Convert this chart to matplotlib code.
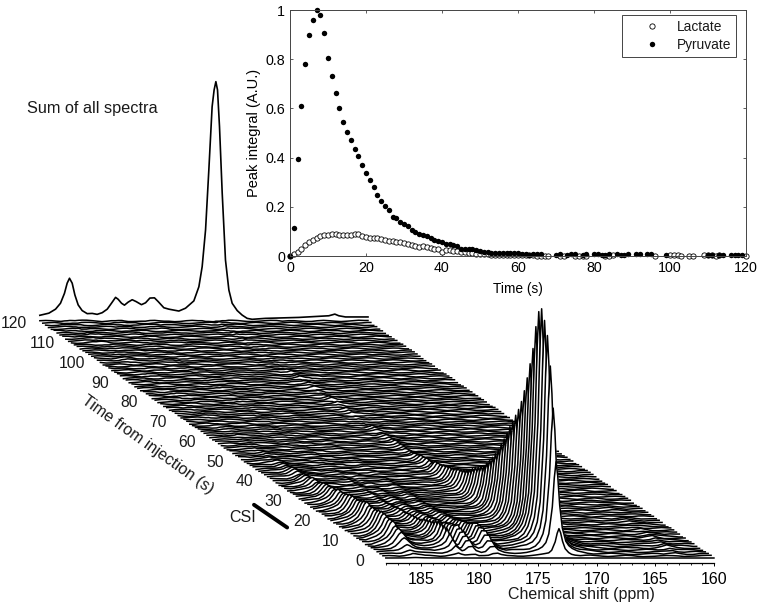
import numpy as np
import matplotlib
matplotlib.use('Agg')
import matplotlib.pyplot as plt
from matplotlib.transforms import offset_copy

plt.rcParams['font.family'] = ['Liberation Sans', 'DejaVu Sans']
plt.rcParams['text.color'] = '#1a1a1a'

nan = float('nan')

# peak integrals, one value per second (nan = below axis)
pyruvate = [0, .115, .393, .609, .779, .90, .959, 1.0, .978, .908,
            .806, .733, .661, .601, .543, .503, .472, .434, .407, .369,
            .336, .309, .279, .25, .225, .204, .186, .16, .155, .14,
            .13, .12, .105, .098, .09, .085, .08, .073, .065, .06,
            .055, .05, .048, .043, .04, .03, .03, .03, .028, .025,
            .02, .018, .015, .012, .012, .012, .012, .013, .013, .012,
            .012, .01, .008, .006, .008, .01, .009, nan, nan, nan,
            .006, .008, nan, .006, .009, .007, nan, .006, .008, nan,
            .009, .008, .005, .006, .007, nan, .007, .006, .006, .007,
            nan, .007, .008, nan, .009, .007, nan, nan, nan, .004,
            nan, nan, nan, nan, nan, nan, nan, nan, nan, nan,
            .003, .003, nan, .005, .005, nan, .004, .004, .004, .004,
            nan]
lactate = [.002, .008, .015, .028, .044, .058, .067, .072, .08, .085,
           .087, .088, .088, .087, .086, .085, .086, .088, .088, .082,
           .077, .073, .072, .072, .068, .065, .063, .06, .056, .055,
           .054, .05, .046, .04, .037, .04, .036, .034, .03, .027,
           .018, .025, .026, .022, .02, .016, .015, .013, .012, .01,
           .009, .008, .007, .006, .006, .005, .005, .004, .004, .003,
           .003, .003, .003, .003, .003, .002, .002, .002, .001, nan,
           nan, .002, .001, nan, nan, .002, .002, .002, .001, nan,
           nan, nan, nan, .001, .002, .003, nan, nan, nan, nan,
           nan, nan, nan, nan, nan, nan, .001, nan, nan, nan,
           .004, .005, .003, .002, nan, .002, .002, nan, nan, .005,
           .003, .004, .002, .003, nan, nan, nan, nan, nan, nan,
           .002]

# sum of all spectra
sum_ppm = [188, 187.23, 186.66, 186.24, 185.9, 185.67, 185.47, 185.24, 185.01, 184.73,
           184.39, 183.96, 183.53, 183.11, 182.68, 182.25, 181.89, 181.54, 181.32, 181.03,
           180.78, 180.46, 180.12, 179.78, 179.33, 178.98, 178.61, 178.22, 177.9, 177.42,
           176.99, 176.14, 175.57, 174.86, 174.43, 174.15, 173.86, 173.58, 173.3, 173.13,
           172.98, 172.84, 172.67, 172.44, 172.16, 171.87, 171.59, 171.16, 170.74, 170.31,
           169.88, 168.75, 165.9, 163.34, 162.83, 162.49, 161.92, 160]
sum_height = [.024, .033, .05, .075, .117, .16, .181, .16, .11, .068,
              .044, .031, .032, .028, .035, .05, .075, .10, .092, .075,
              .067, .08, .09, .082, .069, .077, .097, .098, .082, .056,
              .05, .042, .054, .085, .145, .23, .386, .64, .908, .979,
              1.014, .979, .823, .542, .258, .131, .075, .044, .025, .011,
              .007, .011, .015, .022, .029, .022, .017, .017]

# line shapes of the two components on a common ppm grid
spec_ppm = [188, 187.5, 187, 186.6, 186.2, 185.9, 185.65, 185.45, 185.25, 185,
            184.7, 184.4, 184, 183.5, 183.1, 182.7, 182.25, 181.9, 181.55, 181.3,
            181, 180.8, 180.45, 180.1, 179.8, 179.35, 179, 178.6, 178.2, 177.9,
            177.4, 177, 176.5, 176, 175.5, 175, 174.5, 174.15, 173.85, 173.6,
            173.3, 173.13, 172.98, 172.84, 172.67, 172.45, 172.15, 171.9, 171.6, 171.15,
            170.75, 170.3, 169.8, 169.3, 168.8, 168.3, 167.8, 167.3, 166.8, 166.3,
            165.8, 165.3, 164.8, 164.3, 163.8, 163.3, 162.8, 162.3, 161.8, 161.3,
            160.8, 160.3, 160]
pyr_shape = [0, 0, .002, .003, .004, .005, .005, .005, .005, .006,
             .006, .007, .008, .01, .012, .015, .025, .045, .09, .06,
             .03, .035, .075, .08, .04, .025, .035, .08, .08, .04,
             .02, .012, .013, .015, .02, .027, .045, .075, .126, .22,
             .515, .83, 1.0, .85, .53, .28, .136, .085, .054, .031,
             .02, .014, .008, .005, .003, .002, .001, .001, .001, .001,
             .001, .001, .001, .001, .002, .006, .012, .006, .002, .001,
             .001, 0, 0]
lac_shape = [.01, .03, .09, .17, .34, .6, .92, 1.05, .92, .63,
             .38, .23, .13, .07, .045, .03, .02, .015, .01, .01,
             .01, .005, .005, .005, .005, .005, 0, 0, 0, 0,
             0, 0, 0, 0, 0, 0, 0, 0, 0, 0,
             0, 0, 0, 0, 0, 0, 0, 0, 0, 0,
             0, 0, 0, 0, 0, 0, 0, 0, 0, 0,
             0, 0, 0, 0, 0, 0, 0, 0, 0, 0,
             0, 0, 0]
# baseline wiggle: a typed texture table, the single noise traces can not be read
wiggle = [.002, .0025, .001, -.001, -.0025, -.002, .000, .002, .003, .001,
          -.001, -.003, -.002, .001, .001, .0025, .001, -.002, -.003, -.001,
          .001, .0025, .002, -.001, -.002, -.0025, .000, .002, .001, -.001,
          -.003, -.001, .001, .003, .002, .000, -.001, -.0025, -.001, .001,
          .002, .001, -.001, -.002, -.003, -.001, .002, .003, .001, -.001,
          -.0025, -.001, .001, .0025, .001, -.002, -.0025, -.001, .001, .001, -.001]

ppm_ticks = [185, 180, 175, 170, 165, 160]
time_ticks = [0, 10, 20, 30, 40, 50, 60, 70, 80, 90, 100, 110, 120]
csi_times = [20, 31.5]

# shear of the stack per second, in ppm and in amplitude units
PPM_PER_S = 0.246
AMP_PER_S = 0.00837

fig = plt.figure(figsize=(7.62, 6.09), dpi=100)
ax = fig.add_axes([0, 0, 1, 1])
ax.set_xlim(220.92, 155.9)
ax.set_ylim(-51 / 236, 558 / 236)
ax.patch.set_visible(False)

ppm = np.array(spec_ppm)
pyr = np.nan_to_num(np.array(pyruvate))
lac = np.nan_to_num(np.array(lactate))
pshape = np.array(pyr_shape)
lshape = np.array(lac_shape)
n_w = len(wiggle)

# back to front, every spectrum hides what is behind it
for t in range(120, -1, -1):
    y = pyr[t] * pshape + lac[t] * lshape
    if t > 0:
        # table index follows ppm in half-ppm bins, so the dense grid at the peaks stays smooth
        y = y + np.array([wiggle[(int(p * 2) + 17 * t + t * t) % n_w] for p in ppm])
    x = ppm + PPM_PER_S * t
    base = AMP_PER_S * t
    ax.fill_between(x, y + base, base, color='white', lw=0, zorder=2 + (120 - t) * 0.01)
    ax.plot(x, y + base, color='black', lw=1.1, zorder=2 + (120 - t) * 0.01, solid_joinstyle='round')

# sum trace sits on the last spectrum
ax.plot(np.array(sum_ppm) + PPM_PER_S * 120, np.array(sum_height) + AMP_PER_S * 120,
        color='black', lw=1.2, zorder=4)
ax.text(27, 501, 'Sum of all spectra', transform=None, fontsize=11.7, va='center')

# chemical shift axis
for name in ['top', 'left', 'right']:
    ax.spines[name].set_visible(False)
ax.spines['bottom'].set_position(('data', -0.02))
ax.spines['bottom'].set_bounds(160, 188)
ax.spines['bottom'].set_linewidth(0.9)
ax.set_xticks(ppm_ticks)
ax.set_xticks(np.arange(160, 189), minor=True)
ax.tick_params(axis='x', which='major', direction='out', length=2.5, width=0.7, labelsize=11.5, pad=4.5)
ax.tick_params(axis='x', which='minor', direction='out', length=1.2, width=0.6)
ax.set_yticks([])
ax.text(581, 15, 'Chemical shift (ppm)', transform=None, fontsize=11.5, ha='center', va='center')

# time axis along the left edge of the stack
for t in time_ticks:
    ax.annotate(str(t), (188 + PPM_PER_S * t, AMP_PER_S * t), xytext=(-26, -3),
                textcoords='offset pixels', ha='center', va='center', fontsize=11.3)
ax.text(148, 164, 'Time from injection (s)', transform=None, fontsize=11.5,
        rotation=-35.5, rotation_mode='anchor', ha='center', va='center')

csi_trans = offset_copy(ax.transData, fig, x=-41, y=-9, units='dots')
ax.plot([188 + PPM_PER_S * t for t in csi_times], [AMP_PER_S * t for t in csi_times],
        color='black', lw=2.8, transform=csi_trans, solid_capstyle='round', clip_on=False)
ax.text(243, 92, 'CSI', transform=None, fontsize=11.5, ha='center', va='center')

# inset with the peak integrals
ins = fig.add_axes([290 / 762, 353 / 609, 456 / 762, 246 / 609], zorder=5)
ins.patch.set_visible(False)
times = np.arange(121)
ins.plot(times, lactate, 'o', mfc='white', mec='black', mew=0.6, ms=3.8, clip_on=False, label='Lactate')
ins.plot(times, pyruvate, 'o', color='black', ms=3.9, mew=0, clip_on=False, label='Pyruvate')
ins.set_xlim(0, 120)
ins.set_ylim(0, 1)
ins.set_xticks(range(0, 121, 20))
ins.set_yticks([0, .2, .4, .6, .8, 1])
ins.set_yticklabels(['0', '0.2', '0.4', '0.6', '0.8', '1'])
ins.tick_params(direction='in', top=True, right=True, length=2.5, width=0.6, labelsize=10.3,
                color='#444444', pad=3.5)
for s in ins.spines.values():
    s.set_linewidth(0.7)
    s.set_color('#444444')
ins.set_xlabel('Time (s)', fontsize=9.9, labelpad=5.5)
ins.set_ylabel('Peak integral (A.U.)', fontsize=10.5, labelpad=3.2)
leg = ins.legend(loc='upper right', bbox_to_anchor=(0.978, 0.98), fontsize=9.9, numpoints=1,
                 fancybox=False, framealpha=1, edgecolor='#444444', borderaxespad=0,
                 labelspacing=0.3, handlelength=3.6, handletextpad=0.02, borderpad=0.36)
leg.get_frame().set_linewidth(0.7)

plt.savefig('out.png', dpi=100)
